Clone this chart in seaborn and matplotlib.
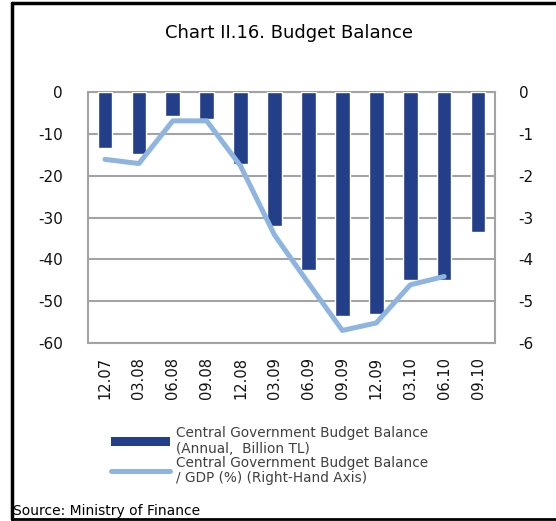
import numpy as np
import pandas as pd
import matplotlib
matplotlib.use("Agg")
import matplotlib.pyplot as plt
import seaborn as sns
from matplotlib.patches import Patch
from matplotlib.lines import Line2D

periods = ["12.07", "03.08", "06.08", "09.08", "12.08", "03.09", "06.09",
           "09.09", "12.09", "03.10", "06.10", "09.10"]
balance_bn_tl = [-13.5, -14.9, -5.8, -6.4, -17.2, -32.0, -42.5,
                 -53.5, -53.0, -44.9, -44.9, -33.5]
balance_gdp_pct = [-1.61, -1.71, -0.69, -0.69, -1.77, -3.42, -4.57,
                   -5.70, -5.52, -4.61, -4.41]
left_ticks = [0, -10, -20, -30, -40, -50, -60]
right_ticks = [0, -1, -2, -3, -4, -5, -6]

title = "Chart II.16. Budget Balance"
bar_label = "Central Government Budget Balance\n(Annual,  Billion TL)"
line_label = "Central Government Budget Balance\n/ GDP (%) (Right-Hand Axis)"
source = "Source: Ministry of Finance"

BAR_C = "#233F8A"
LINE_C = "#8DB5DF"
GRID_C = "#A3A3A3"

sns.set_theme(style="white")
plt.rcParams["font.family"] = ["DejaVu Sans"]

fig = plt.figure(figsize=(5.56, 5.21), dpi=100)
ax = fig.add_axes([88 / 556, 1 - 343 / 521, (495 - 88) / 556, (343 - 92) / 521])

df_bar = pd.DataFrame({"period": periods, "value": balance_bn_tl})
sns.barplot(data=df_bar, x="period", y="value", color=BAR_C, saturation=1,
            width=0.43, ax=ax, zorder=3)
ax.set_ylim(-60, 0)
ax.set_xlim(-0.5, len(periods) - 0.5)
ax.set_yticks(left_ticks)
ax.set_yticklabels([str(t) for t in left_ticks])
ax.yaxis.grid(True, color=GRID_C, linewidth=1.5, zorder=0)
ax.set_axisbelow(True)
for s in ax.spines.values():
    s.set_color(GRID_C)
    s.set_linewidth(1.5)
ax.set_xlabel("")
ax.set_ylabel("")
ax.tick_params(axis="y", length=0, pad=18, labelsize=11, labelcolor="#111111")
ax.tick_params(axis="x", length=0, pad=10, labelsize=10.5, labelrotation=90,
               labelcolor="#111111")

ax2 = ax.twinx()
df_line = pd.DataFrame({"pos": np.arange(len(balance_gdp_pct)),
                        "value": balance_gdp_pct})
sns.lineplot(data=df_line, x="pos", y="value", color=LINE_C, linewidth=3.6,
             ax=ax2, zorder=4)
ax2.set_ylim(-6, 0)
ax2.set_yticks(right_ticks)
ax2.set_yticklabels([str(t) for t in right_ticks])
ax2.set_ylabel("")
ax2.tick_params(axis="y", length=0, pad=17, labelsize=11, labelcolor="#111111")
for s in ax2.spines.values():
    s.set_visible(False)
ax2.grid(False)
ax.set_xlim(-0.5, len(periods) - 0.5)

fig.text(0.52, 1 - 33 / 521, title, ha="center", va="center", fontsize=13,
         color="black")
fig.text(13 / 556, 1 - 511 / 521, source, ha="left", va="center",
         fontsize=10, color="black")

handles = [Patch(facecolor=BAR_C, edgecolor="none"),
           Line2D([0], [0], color=LINE_C, linewidth=3.6)]
leg = fig.legend(handles, [bar_label, line_label], loc="upper left",
                 bbox_to_anchor=(106 / 556, 1 - 421 / 521), frameon=False,
                 fontsize=9.8, handlelength=4.3, handleheight=0.7,
                 labelspacing=0.0, handletextpad=0.45, borderaxespad=0)
for t in leg.get_texts():
    t.set_color("#404040")
    t.set_linespacing(1.1)

# outer frame
fig.add_artist(Line2D([12 / 556, 1], [1 - 3 / 521, 1 - 3 / 521],
                      transform=fig.transFigure, color="black", linewidth=2.5))
fig.add_artist(Line2D([12 / 556, 12 / 556], [1 - 3 / 521, 1 - 519 / 521],
                      transform=fig.transFigure, color="black", linewidth=2.5))
fig.add_artist(Line2D([12 / 556, 1], [1 - 519 / 521, 1 - 519 / 521],
                      transform=fig.transFigure, color="black", linewidth=2))

fig.savefig("out.png", dpi=100)
